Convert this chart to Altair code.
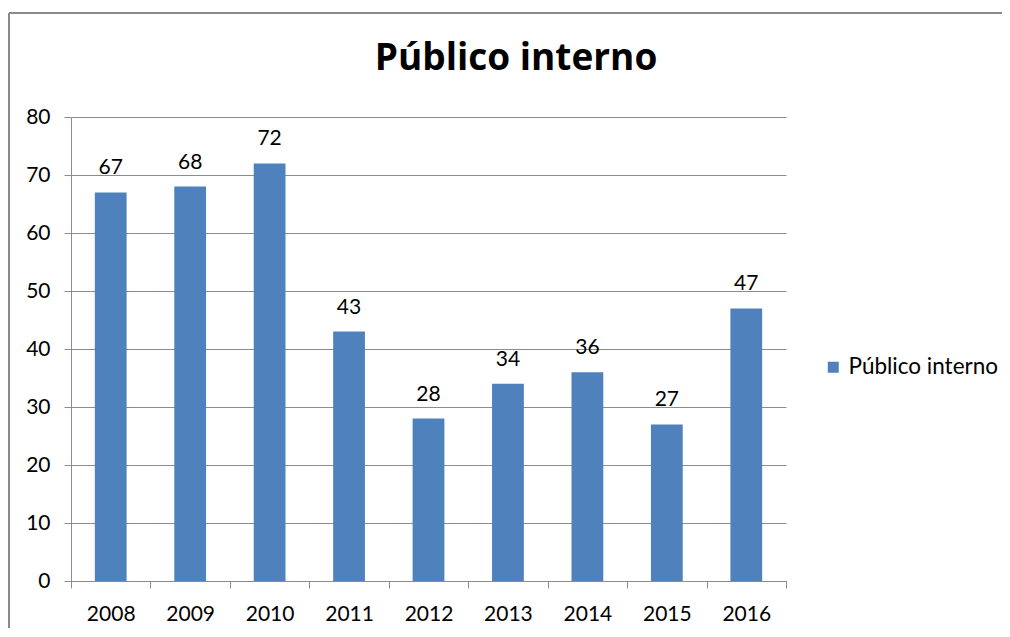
import altair as alt
import pandas as pd

years = ["2008", "2009", "2010", "2011", "2012", "2013", "2014", "2015", "2016"]
values = [67, 68, 72, 43, 28, 34, 36, 27, 47]
series = "Público interno"

df = pd.DataFrame({"ano": years, "valor": values, "serie": [series] * len(years)})

FONT = "Lato"
BLUE = "#4f81bd"
GRID = "#8c8c8c"
FRAME = "#8a8a8a"

base = alt.Chart(df)

x_enc = alt.X("ano:N", sort=years, title=None,
              scale=alt.Scale(paddingInner=0, paddingOuter=0),
              axis=alt.Axis(labelAngle=0, tickBand="extent", domainColor=GRID,
                            tickColor=GRID, tickSize=7, labelFontSize=21,
                            labelColor="#000000", labelPadding=15, labelFont=FONT))
y_enc = alt.Y("valor:Q", title=None,
              scale=alt.Scale(domain=[0, 80]),
              axis=alt.Axis(values=[0, 10, 20, 30, 40, 50, 60, 70, 80],
                            grid=True, gridColor=GRID, domainColor=GRID,
                            tickColor=GRID, tickSize=7, labelFontSize=21,
                            labelColor="#000000", labelPadding=14, labelFont=FONT))

bars = base.mark_bar(width=alt.RelativeBandSize(0.4), color=BLUE).encode(
    x=x_enc, y=y_enc,
    color=alt.Color("serie:N", scale=alt.Scale(range=[BLUE]),
                    legend=alt.Legend(title=None, orient="none", legendX=751, legendY=239,
                                      symbolType="square", symbolSize=121,
                                      symbolStrokeWidth=0, labelFontSize=22.5,
                                      labelFont=FONT, labelColor="#000000",
                                      labelOffset=4)),
)

labels = base.mark_text(dy=-18, baseline="alphabetic", fontSize=21, font=FONT,
                        color="#000000").encode(
    x=alt.X("ano:N", sort=years), y="valor:Q", text="valor:Q")

one = pd.DataFrame({"a": [0]})
frame_top = alt.Chart(one).mark_rule(color=FRAME, strokeWidth=2, clip=False).encode(
    x=alt.value(-62), x2=alt.value(931), y=alt.value(-104))
frame_left = alt.Chart(one).mark_rule(color=FRAME, strokeWidth=2, clip=False).encode(
    x=alt.value(-62), y=alt.value(-104), y2=alt.value(511))

title = alt.Chart(pd.DataFrame({"t": [series]})).mark_text(
    font="Open Sans", fontSize=37, fontWeight="bold", color="#000000",
    baseline="alphabetic", align="center").encode(
    x=alt.value(445), y=alt.value(-47), text="t:N")

chart = alt.layer(frame_top, frame_left, bars, labels, title).properties(
    width=715, height=464,
    autosize=alt.AutoSizeParams(type="none"),
    padding={"left": 63, "top": 109, "right": 216, "bottom": 48},
).configure_view(stroke=None)

chart.save("out.html", embed_options={"renderer": "svg", "actions": False})
